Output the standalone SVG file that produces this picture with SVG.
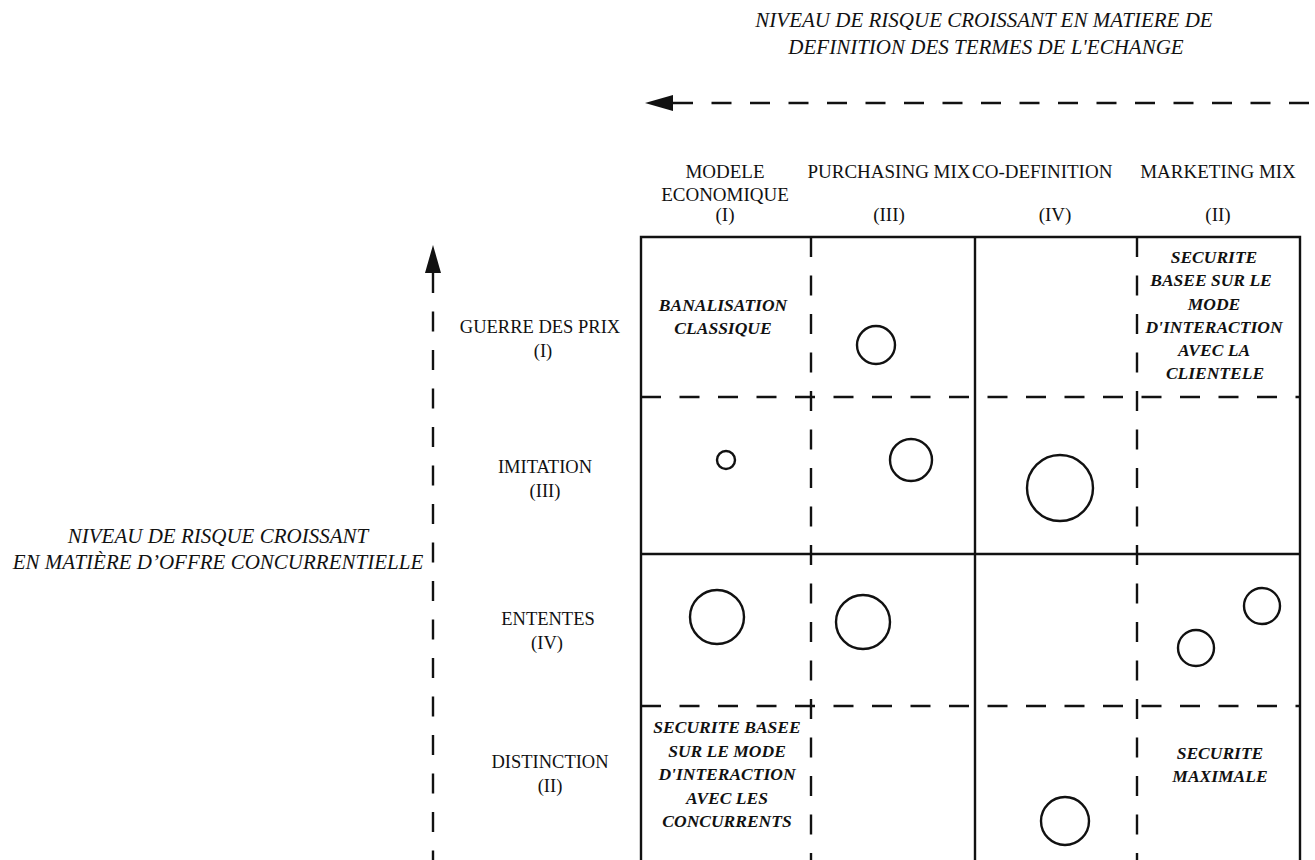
<svg xmlns="http://www.w3.org/2000/svg" width="1315" height="860" viewBox="0 0 1315 860">
  <style>
    .t { font-family: "Liberation Serif", "Times New Roman", serif; fill: #111; }
    .ttl { font-style: italic; font-size: 21px; text-anchor: middle; }
    .lbl { font-size: 18.5px; text-anchor: middle; }
    .hdr { font-size: 19px; text-anchor: middle; }
    .cell { font-style: italic; font-weight: bold; font-size: 17.5px; text-anchor: middle; }
    .ln { stroke: #111; stroke-width: 2.4; fill: none; }
    .dash { stroke-dasharray: 20 18.5; }
    .bub { stroke: #111; stroke-width: 2.4; fill: none; }
  </style>
  <defs>
    <marker id="head" markerUnits="userSpaceOnUse" viewBox="0 0 28 16" markerWidth="28" markerHeight="16" refX="0" refY="8" orient="auto-start-reverse">
      <path d="M0,0 L28,8 L0,16 z" fill="#111"/>
    </marker>
  </defs>
  <rect width="1315" height="860" fill="#fff"/>

  <!-- axis titles -->
  <g id="title-x">
    <text class="t ttl" x="984" y="27">NIVEAU DE RISQUE CROISSANT EN MATIERE DE</text>
    <text class="t ttl" x="986" y="54">DEFINITION DES TERMES DE L'ECHANGE</text>
  </g>
  <g id="title-y">
    <text class="t ttl" x="218" y="543">NIVEAU DE RISQUE CROISSANT</text>
    <text class="t ttl" x="218" y="569">EN MATIÈRE D’OFFRE CONCURRENTIELLE</text>
  </g>

  <!-- axes -->
  <g id="connectors">
    <path class="ln dash" d="M673,103 L1315,103" marker-start="url(#head)"/>
    <path class="ln dash" d="M433,273 L433,860" marker-start="url(#head)"/>
  </g>

  <!-- column headers -->
  <g id="col-1">
    <text class="t hdr" x="725" y="178">MODELE</text>
    <text class="t hdr" x="725" y="201">ECONOMIQUE</text>
    <text class="t hdr" x="725" y="221">(I)</text>
  </g>
  <g id="col-2">
    <text class="t hdr" x="889" y="178">PURCHASING MIX</text>
    <text class="t hdr" x="889" y="221">(III)</text>
  </g>
  <g id="col-3">
    <text class="t hdr" x="972" y="178" style="text-anchor:start">CO-DEFINITION</text>
    <text class="t hdr" x="1055" y="221">(IV)</text>
  </g>
  <g id="col-4">
    <text class="t hdr" x="1218" y="178">MARKETING MIX</text>
    <text class="t hdr" x="1218" y="221">(II)</text>
  </g>

  <!-- row headers -->
  <g id="row-1">
    <text class="t lbl" x="540" y="333">GUERRE DES PRIX</text>
    <text class="t lbl" x="543" y="357">(I)</text>
  </g>
  <g id="row-2">
    <text class="t lbl" x="545" y="473">IMITATION</text>
    <text class="t lbl" x="545" y="497">(III)</text>
  </g>
  <g id="row-3">
    <text class="t lbl" x="548" y="625">ENTENTES</text>
    <text class="t lbl" x="547" y="649">(IV)</text>
  </g>
  <g id="row-4">
    <text class="t lbl" x="550" y="768">DISTINCTION</text>
    <text class="t lbl" x="550" y="792">(II)</text>
  </g>

  <!-- matrix frame and dividers -->
  <g id="grid">
    <path class="ln" d="M641,860 L641,237 L1300,237 L1300,860"/>
    <path class="ln" d="M975,237 L975,860"/>
    <path class="ln" d="M641,554 L1300,554"/>
    <path class="ln dash" d="M811,237 L811,860"/>
    <path class="ln dash" d="M1137,237 L1137,860"/>
    <path class="ln dash" d="M641,397 L1300,397"/>
    <path class="ln dash" d="M641,706 L1300,706"/>
  </g>

  <!-- cell contents -->
  <g id="cell-1-1">
    <text class="t cell" x="723" y="311">BANALISATION</text>
    <text class="t cell" x="723" y="334">CLASSIQUE</text>
  </g>
  <g id="cell-1-2">
    <circle class="bub" cx="876" cy="345" r="19"/>
  </g>
  <g id="cell-1-4">
    <text class="t cell" x="1214" y="263">SECURITE</text>
    <text class="t cell" x="1211" y="286">BASEE SUR LE</text>
    <text class="t cell" x="1214" y="310">MODE</text>
    <text class="t cell" x="1214" y="333">D'INTERACTION</text>
    <text class="t cell" x="1214" y="356">AVEC LA</text>
    <text class="t cell" x="1215" y="379">CLIENTELE</text>
  </g>
  <g id="cell-2-1">
    <circle class="bub" cx="726" cy="460" r="9"/>
  </g>
  <g id="cell-2-2">
    <circle class="bub" cx="911" cy="460" r="21"/>
  </g>
  <g id="cell-2-3">
    <circle class="bub" cx="1060" cy="488" r="33"/>
  </g>
  <g id="cell-3-1">
    <circle class="bub" cx="717" cy="617" r="27"/>
  </g>
  <g id="cell-3-2">
    <circle class="bub" cx="863" cy="622" r="27"/>
  </g>
  <g id="cell-3-4">
    <circle class="bub" cx="1262" cy="606" r="18"/>
    <circle class="bub" cx="1196" cy="648" r="18"/>
  </g>
  <g id="cell-4-1">
    <text class="t cell" x="727" y="733">SECURITE BASEE</text>
    <text class="t cell" x="727" y="757">SUR LE MODE</text>
    <text class="t cell" x="727" y="780">D'INTERACTION</text>
    <text class="t cell" x="727" y="804">AVEC LES</text>
    <text class="t cell" x="727" y="827">CONCURRENTS</text>
  </g>
  <g id="cell-4-3">
    <circle class="bub" cx="1065" cy="821" r="24"/>
  </g>
  <g id="cell-4-4">
    <text class="t cell" x="1220" y="759">SECURITE</text>
    <text class="t cell" x="1220" y="782">MAXIMALE</text>
  </g>
</svg>
